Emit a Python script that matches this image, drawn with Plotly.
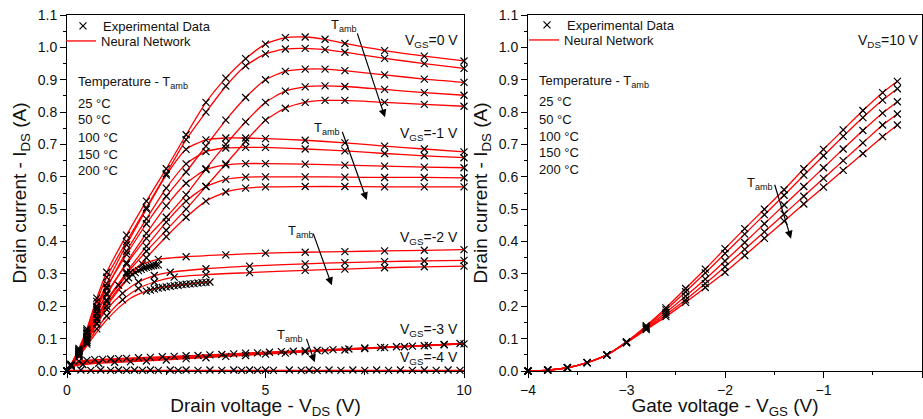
import plotly.graph_objects as go

FONT = "Arial, Liberation Sans, sans-serif"
RED = "#ff0000"

# ---------------- Left panel: output characteristics (I_DS vs V_DS) ----------------
temps = ["25 °C", "50 °C", "100 °C", "150 °C", "200 °C"]

# V_GS = 0 V
X0 = [0, 0.1, 0.3, 0.5, 0.75, 1.0, 1.5, 2.0, 2.5, 3.0, 3.5, 4.0, 4.5, 5.0, 5.5, 6.0, 6.5, 7.0, 8.0, 9.0, 10.0]
Y0_25 = [0, 0.02, 0.07, 0.13, 0.225, 0.305, 0.42, 0.525, 0.625, 0.73, 0.83, 0.905, 0.965, 1.01, 1.03, 1.032, 1.025, 1.012, 0.99, 0.973, 0.958]
Y0_50 = [0, 0.02, 0.065, 0.125, 0.215, 0.29, 0.40, 0.505, 0.61, 0.715, 0.80, 0.88, 0.943, 0.98, 0.995, 0.997, 0.993, 0.985, 0.966, 0.95, 0.935]
Y0_100 = [0, 0.018, 0.06, 0.115, 0.195, 0.26, 0.36, 0.455, 0.54, 0.615, 0.695, 0.775, 0.845, 0.90, 0.926, 0.933, 0.933, 0.928, 0.915, 0.902, 0.892]
Y0_150 = [0, 0.017, 0.055, 0.105, 0.18, 0.24, 0.33, 0.41, 0.475, 0.545, 0.625, 0.70, 0.77, 0.83, 0.865, 0.878, 0.881, 0.879, 0.87, 0.86, 0.852]
Y0_200 = [0, 0.016, 0.05, 0.095, 0.165, 0.22, 0.30, 0.37, 0.435, 0.50, 0.57, 0.64, 0.71, 0.775, 0.812, 0.83, 0.836, 0.836, 0.83, 0.824, 0.818]

# V_GS = -1 V
X1 = [0, 0.1, 0.3, 0.5, 0.75, 1.0, 1.5, 2.0, 2.5, 3.0, 3.5, 4.0, 4.5, 5.0, 6.0, 7.0, 8.0, 9.0, 10.0]
Y1_25 = [0, 0.02, 0.065, 0.12, 0.2, 0.27, 0.39, 0.50, 0.605, 0.685, 0.714, 0.72, 0.72, 0.718, 0.713, 0.705, 0.695, 0.686, 0.677]
Y1_50 = [0, 0.019, 0.06, 0.115, 0.19, 0.255, 0.37, 0.47, 0.565, 0.64, 0.678, 0.689, 0.691, 0.691, 0.686, 0.68, 0.672, 0.665, 0.659]
Y1_100 = [0, 0.018, 0.055, 0.105, 0.175, 0.235, 0.335, 0.425, 0.51, 0.58, 0.622, 0.637, 0.641, 0.641, 0.639, 0.636, 0.633, 0.63, 0.628]
Y1_150 = [0, 0.017, 0.05, 0.095, 0.16, 0.215, 0.305, 0.385, 0.46, 0.525, 0.57, 0.592, 0.599, 0.6, 0.6, 0.599, 0.598, 0.598, 0.597]
Y1_200 = [0, 0.016, 0.046, 0.088, 0.148, 0.2, 0.28, 0.35, 0.415, 0.475, 0.525, 0.553, 0.565, 0.569, 0.57, 0.57, 0.569, 0.569, 0.569]

# V_GS = -2 V
X2a = [0, 0.1, 0.3, 0.5, 0.75, 1.0, 1.3, 1.6, 1.9, 2.3, 3.0, 4.0, 5.0, 6.0, 7.0, 8.0, 9.0, 10.0]
Y2a = [0, 0.018, 0.055, 0.1, 0.16, 0.215, 0.265, 0.305, 0.33, 0.345, 0.353, 0.359, 0.364, 0.367, 0.369, 0.371, 0.373, 0.375]
X2b = [0, 0.1, 0.3, 0.5, 0.75, 1.0, 1.4, 1.8, 2.2, 2.6, 3.5, 4.6, 6.0, 7.0, 8.0, 9.0, 10.0]
Y2b = [0, 0.017, 0.05, 0.09, 0.145, 0.19, 0.24, 0.275, 0.295, 0.305, 0.316, 0.324, 0.331, 0.335, 0.338, 0.34, 0.342]
X2c = [0, 0.1, 0.3, 0.5, 0.75, 1.0, 1.4, 1.8, 2.2, 2.7, 3.5, 4.6, 6.0, 7.0, 8.0, 9.0, 10.0]
Y2c = [0, 0.016, 0.046, 0.083, 0.13, 0.17, 0.22, 0.255, 0.275, 0.29, 0.298, 0.304, 0.311, 0.315, 0.319, 0.322, 0.324]
X2d = [0, 0.1, 0.3, 0.5, 0.75, 1.0, 1.3, 1.6, 1.8, 2.0, 2.2, 2.3]
Y2d = [0, 0.018, 0.053, 0.095, 0.155, 0.205, 0.255, 0.293, 0.31, 0.32, 0.326, 0.328]
X2e = [0, 0.1, 0.3, 0.5, 0.75, 1.0, 1.3, 1.6, 2.0, 2.3, 2.6, 3.0, 3.3, 3.6]
Y2e = [0, 0.016, 0.044, 0.078, 0.12, 0.158, 0.195, 0.225, 0.247, 0.256, 0.262, 0.268, 0.272, 0.275]
X2d_m = [1.55, 1.65, 1.72, 1.8, 1.87, 1.94, 2.0, 2.06, 2.12, 2.18, 2.24, 2.3]
Y2d_m = [0.288, 0.298, 0.304, 0.31, 0.314, 0.318, 0.32, 0.322, 0.324, 0.326, 0.327, 0.328]
X2e_m = [2.0, 2.1, 2.2, 2.3, 2.4, 2.5, 2.6, 2.7, 2.8, 2.9, 3.0, 3.1, 3.2, 3.3, 3.4, 3.5, 3.6]
Y2e_m = [0.247, 0.25, 0.253, 0.256, 0.258, 0.26, 0.262, 0.264, 0.265, 0.267, 0.268, 0.269, 0.27, 0.272, 0.273, 0.274, 0.275]

# V_GS = -3 V
X3 = [0, 0.15, 0.3, 0.6, 1, 2, 3, 4, 5, 6, 7, 8, 9, 10]
Y3_25 = [0, 0.02, 0.03, 0.034, 0.037, 0.042, 0.047, 0.052, 0.058, 0.063, 0.068, 0.074, 0.079, 0.085]
Y3_50 = [0, 0.019, 0.028, 0.032, 0.035, 0.04, 0.046, 0.051, 0.057, 0.062, 0.068, 0.073, 0.079, 0.085]
Y3_100 = [0, 0.017, 0.024, 0.028, 0.031, 0.037, 0.043, 0.049, 0.055, 0.061, 0.067, 0.073, 0.079, 0.085]
Y3_150 = [0, 0.015, 0.021, 0.025, 0.028, 0.034, 0.041, 0.047, 0.054, 0.06, 0.066, 0.072, 0.078, 0.084]
Y3_200 = [0, 0.013, 0.018, 0.022, 0.025, 0.031, 0.038, 0.045, 0.052, 0.059, 0.065, 0.072, 0.078, 0.084]
X3m_a = [0.3, 0.5, 0.7, 0.9, 1.1, 1.3, 1.5, 1.8, 2.1, 2.4, 2.7, 3.0, 3.3, 3.6, 3.9, 4.2, 4.5, 4.8, 5.1, 5.4, 5.7, 6.0, 6.3, 6.7, 7.1, 7.5, 7.9, 8.3, 8.7, 9.1, 9.5, 9.9]
Y3m_a = [0.03, 0.033, 0.035, 0.036, 0.037, 0.038, 0.039, 0.041, 0.042, 0.044, 0.045, 0.047, 0.048, 0.05, 0.051, 0.053, 0.055, 0.056, 0.058, 0.06, 0.061, 0.063, 0.064, 0.066, 0.068, 0.071, 0.073, 0.075, 0.077, 0.079, 0.082, 0.085]
X3m_b = [0.4, 0.8, 1.2, 1.6, 2.0, 2.5, 3.0, 3.5, 4.0, 4.5, 5.0, 5.5, 6.0, 6.5, 7.0, 7.5, 8.0, 8.5, 9.0, 9.5, 10.0]
Y3m_b = [0.02, 0.024, 0.027, 0.029, 0.031, 0.034, 0.038, 0.041, 0.045, 0.048, 0.052, 0.055, 0.059, 0.062, 0.065, 0.069, 0.072, 0.075, 0.078, 0.081, 0.084]

# V_GS = -4 V
X4 = [0, 10]
Y4 = [0.0015, 0.0015]
X4m = [0.35, 0.6, 0.85, 1.1, 1.3, 1.5, 1.7, 1.9, 2.1, 2.3, 2.6, 2.8, 3.0, 3.3, 3.6, 3.9, 4.2, 4.4, 4.6, 4.8, 5.0, 5.2, 5.6, 5.9, 6.1, 6.3, 6.6, 6.9, 7.2, 7.5, 7.8, 8.1, 8.4, 8.7, 9.0, 9.3, 9.6, 9.9]
Y4m = [0.003, 0.002, 0.003, 0.002, 0.003, 0.002, 0.003, 0.002, 0.003, 0.002, 0.003, 0.002, 0.003, 0.002, 0.003, 0.002, 0.003, 0.002, 0.003, 0.002, 0.003, 0.002, 0.003, 0.002, 0.003, 0.002, 0.003, 0.002, 0.003, 0.002, 0.003, 0.002, 0.003, 0.002, 0.003, 0.002, 0.003, 0.002]

# ---------------- Right panel: transfer characteristics (V_DS = 10 V) ----------------
VG = [-4, -3.8, -3.6, -3.4, -3.2, -3.0, -2.8, -2.6, -2.4, -2.2, -2.0, -1.8, -1.6, -1.4, -1.2, -1.0, -0.8, -0.6, -0.4, -0.25]
IT_25 = [0, 0.003, 0.01, 0.026, 0.05, 0.09, 0.14, 0.195, 0.255, 0.315, 0.378, 0.44, 0.5, 0.56, 0.625, 0.685, 0.745, 0.805, 0.86, 0.895]
IT_50 = [0, 0.003, 0.01, 0.026, 0.05, 0.09, 0.137, 0.189, 0.245, 0.303, 0.363, 0.423, 0.483, 0.543, 0.605, 0.665, 0.725, 0.783, 0.837, 0.872]
IT_100 = [0, 0.003, 0.01, 0.026, 0.05, 0.089, 0.134, 0.181, 0.231, 0.284, 0.34, 0.397, 0.455, 0.513, 0.57, 0.628, 0.686, 0.743, 0.797, 0.832]
IT_150 = [0, 0.003, 0.01, 0.026, 0.05, 0.088, 0.131, 0.174, 0.22, 0.27, 0.322, 0.376, 0.43, 0.485, 0.54, 0.595, 0.65, 0.705, 0.76, 0.794]
IT_200 = [0, 0.003, 0.01, 0.026, 0.05, 0.087, 0.128, 0.168, 0.212, 0.258, 0.305, 0.357, 0.41, 0.463, 0.516, 0.568, 0.62, 0.672, 0.724, 0.76]

fig = go.Figure()

def add_line(x, y, xa, ya, legend=None):
    fig.add_trace(go.Scatter(
        x=x, y=y, mode="lines", xaxis=xa, yaxis=ya, name="Neural Network",
        line=dict(color=RED, width=1.3, shape="spline", smoothing=0.6),
        showlegend=legend is not None, legend=legend or "legend",
        hoverinfo="skip"))

def add_markers(x, y, xa, ya, legend=None):
    fig.add_trace(go.Scatter(
        x=x, y=y, mode="markers", xaxis=xa, yaxis=ya, name="Experimental Data",
        marker=dict(symbol="x-thin-open", size=7, color="black",
                    line=dict(color="black", width=1.2)),
        showlegend=legend is not None, legend=legend or "legend",
        cliponaxis=False, hoverinfo="skip"))

left_lines = [
    (X0, Y0_25), (X0, Y0_50), (X0, Y0_100), (X0, Y0_150), (X0, Y0_200),
    (X1, Y1_25), (X1, Y1_50), (X1, Y1_100), (X1, Y1_150), (X1, Y1_200),
    (X2a, Y2a), (X2b, Y2b), (X2c, Y2c), (X2d, Y2d), (X2e, Y2e),
    (X3, Y3_25), (X3, Y3_50), (X3, Y3_100), (X3, Y3_150), (X3, Y3_200),
    (X4, Y4),
]
left_marks = [
    (X0, Y0_25), (X0, Y0_50), (X0, Y0_100), (X0, Y0_150), (X0, Y0_200),
    (X1, Y1_25), (X1, Y1_50), (X1, Y1_100), (X1, Y1_150), (X1, Y1_200),
    (X2a, Y2a), (X2b, Y2b), (X2c, Y2c), (X2d_m, Y2d_m), (X2e_m, Y2e_m),
    (X3m_a, Y3m_a), (X3m_b, Y3m_b), (X4m, Y4m),
]
for i, (x, y) in enumerate(left_lines):
    add_line(x, y, "x", "y", legend="legend3" if i == 0 else None)
for i, (x, y) in enumerate(left_marks):
    add_markers(x, y, "x", "y", legend="legend" if i == 0 else None)

right = [IT_25, IT_50, IT_100, IT_150, IT_200]
for i, y in enumerate(right):
    add_line(VG, y, "x2", "y2", legend="legend4" if i == 0 else None)
for i, y in enumerate(right):
    add_markers(VG, y, "x2", "y2", legend="legend2" if i == 0 else None)

W, H = 923, 419
ydom = [(H - 371) / H, (H - 15) / H]

axis_common = dict(
    showline=True, linecolor="black", linewidth=1, mirror=True,
    ticks="outside", ticklen=6, tickwidth=1, tickcolor="black",
    showgrid=False, zeroline=False, automargin=False,
    tickfont=dict(family=FONT, size=14, color="#111"),
    title_font=dict(family=FONT, size=19, color="#111"),
)

def leg(px, py):
    return dict(x=px / W, y=(H - py) / H, xanchor="left", yanchor="top",
                bgcolor="rgba(0,0,0,0)", font=dict(family=FONT, size=13, color="#111"),
                tracegroupgap=0, itemwidth=30)

fig.update_layout(
    width=W, height=H,
    margin=dict(l=0, r=0, t=0, b=0),
    paper_bgcolor="white", plot_bgcolor="white",
    font=dict(family=FONT, color="#111"),
    xaxis=dict(domain=[67 / W, 464 / W], range=[0, 10], dtick=5, anchor="y",
               minor=dict(dtick=2.5, ticks="outside", ticklen=3, tickcolor="black"),
               title=dict(text="Drain voltage - V<sub>DS</sub> (V)", standoff=5),
               **axis_common),
    yaxis=dict(domain=ydom, range=[0, 1.1], dtick=0.1, tickformat=".1f", anchor="x",
               minor=dict(dtick=0.05, ticks="outside", ticklen=3, tickcolor="black"),
               title=dict(text="Drain current - I<sub>DS</sub> (A)", standoff=6),
               **axis_common),
    xaxis2=dict(domain=[528 / W, 922 / W], range=[-4, 0], dtick=1, anchor="y2",
                minor=dict(dtick=0.5, ticks="outside", ticklen=3, tickcolor="black"),
                title=dict(text="Gate voltage - V<sub>GS</sub> (V)", standoff=5),
                **axis_common),
    yaxis2=dict(domain=ydom, range=[0, 1.1], dtick=0.1, tickformat=".1f", anchor="x2",
                minor=dict(dtick=0.05, ticks="outside", ticklen=3, tickcolor="black"),
                title=dict(text="Drain current - I<sub>DS</sub> (A)", standoff=6),
                **axis_common),
    legend=leg(63, 11),
    legend3=leg(61, 26),
    legend2=leg(527, 10),
    legend4=leg(524, 25),
)

ann = []
def txt(text, x, y, xref, yref, size=13, xanchor="left", yanchor="middle"):
    ann.append(dict(text=text, x=x, y=y, xref=xref, yref=yref, showarrow=False,
                    xanchor=xanchor, yanchor=yanchor,
                    font=dict(family=FONT, size=size, color="#111")))

def arrow(x0, y0, x1, y1, xref, yref):
    ann.append(dict(text="", x=x1, y=y1, ax=x0, ay=y0, xref=xref, yref=yref,
                    axref=xref, ayref=yref, showarrow=True, arrowhead=2,
                    arrowsize=1.3, arrowwidth=1.2, arrowcolor="black"))

# Temperature lists (pixel positions converted to paper fraction)
for px, pys in [(76, [82, 103, 120, 137, 154, 171]), (537, [81, 102, 119, 136, 153, 169])]:
    txt("Temperature - T<sub>amb</sub>", px / W, 1 - pys[0] / H, "paper", "paper")
    for t, py in zip(temps, pys[1:]):
        txt(t, px / W, 1 - py / H, "paper", "paper")

# Left panel labels
txt("V<sub>GS</sub>=0 V", 9.9, 1.02, "x", "y", size=14, xanchor="right")
txt("V<sub>GS</sub>=-1 V", 9.9, 0.732, "x", "y", size=14, xanchor="right")
txt("V<sub>GS</sub>=-2 V", 9.9, 0.41, "x", "y", size=14, xanchor="right")
txt("V<sub>GS</sub>=-3 V", 9.9, 0.126, "x", "y", size=14, xanchor="right")
txt("V<sub>GS</sub>=-4 V", 9.9, 0.04, "x", "y", size=14, xanchor="right")

txt("T<sub>amb</sub>", 6.97, 1.066, "x", "y", xanchor="center")
arrow(7.30, 1.048, 8.01, 0.784, "x", "y")
txt("T<sub>amb</sub>", 6.54, 0.75, "x", "y", xanchor="center")
arrow(6.92, 0.744, 7.55, 0.528, "x", "y")
txt("T<sub>amb</sub>", 5.89, 0.432, "x", "y", xanchor="center")
arrow(6.19, 0.429, 6.67, 0.265, "x", "y")
txt("T<sub>amb</sub>", 5.61, 0.11, "x", "y", xanchor="center")
arrow(6.02, 0.104, 6.24, 0.027, "x", "y")

# Right panel labels
txt("V<sub>DS</sub>=10 V", -0.01, 1.02, "x2", "y2", size=14, xanchor="right")
txt("T<sub>amb</sub>", -1.64, 0.58, "x2", "y2", xanchor="center")
arrow(-1.50, 0.58, -1.33, 0.409, "x2", "y2")

fig.update_layout(annotations=ann)
fig.write_html(
    "out.html",
    config={"displayModeBar": False},
    post_script="document.body.style.margin='0';document.body.style.padding='0';"
                "document.documentElement.style.overflow='hidden';",
)
